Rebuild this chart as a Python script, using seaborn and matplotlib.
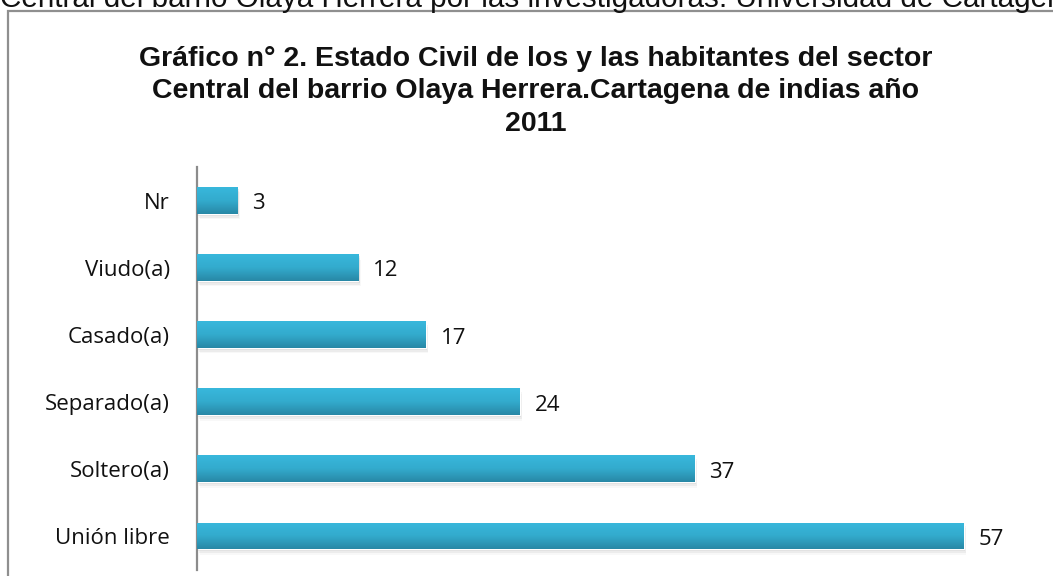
import matplotlib
matplotlib.use("Agg")
import matplotlib.pyplot as plt
import seaborn as sns
import numpy as np
import pandas as pd
from matplotlib.patches import Rectangle
from matplotlib.colors import LinearSegmentedColormap

categories = ["Nr", "Viudo(a)", "Casado(a)", "Separado(a)", "Soltero(a)", "Unión libre"]
values = [3, 12, 17, 24, 37, 57]
title = ("Gráfico n° 2. Estado Civil de los y las habitantes del sector\n"
         "Central del barrio Olaya Herrera.Cartagena de indias año\n2011")
top_text = "Central del barrio Olaya Herrera por las investigadoras. Universidad de Cartagena"

sns.set_theme(style="white")
plt.rcParams['font.family'] = ['Open Sans', 'DejaVu Sans']

W, H = 1053, 576
fig = plt.figure(figsize=(W/100, H/100), dpi=100)
ax = fig.add_axes([197/W, 1-569.5/H, 807/W, 402.5/H])

df = pd.DataFrame({"cat": categories, "val": values})
sns.barplot(data=df, x="val", y="cat", ax=ax, color="#33AED2", width=0.4,
            orient="h", saturation=1)

cmap = LinearSegmentedColormap.from_list("g", ["#38B8DC", "#33ABCD", "#2888A6"])
grad = np.linspace(0, 1, 64).reshape(-1, 1)
for p in list(ax.patches):
    x0, y0 = p.get_x(), p.get_y()
    w, h = p.get_width(), p.get_height()
    # soft shadow
    for k, a in enumerate([0.10, 0.07, 0.04]):
        sh = Rectangle((x0 + 0.1 + k*0.05, y0 + 0.03 + k*0.025), w, h,
                       facecolor="#555555", edgecolor="none", alpha=a, zorder=1)
        ax.add_patch(sh)
    p.set_zorder(2)
    im = ax.imshow(grad, cmap=cmap, aspect="auto",
                   extent=[x0, x0 + w, y0 + h, y0], zorder=3)
    im.set_clip_path(p)
    ax.text(x0 + w + 1.1, y0 + h/2 + 0.05, f"{int(w)}", va="center", ha="left",
            fontsize=16, color="#111111", zorder=4)

ax.set_xlim(0, 60)
ax.set_ylim(5.5, -0.5)
ax.set_xlabel("")
ax.set_ylabel("")
ax.set_xticks([])
ax.tick_params(axis="y", length=0, pad=19.5, labelsize=16, labelcolor="#111111")
for s in ["top", "right", "bottom"]:
    ax.spines[s].set_visible(False)
ax.spines["left"].set_color("#8c8c8c")
ax.spines["left"].set_linewidth(1.6)

# chart border box
fig.patches.append(Rectangle((7.5/W, -0.2), 2.0, (H-11)/H + 0.2,
                             transform=fig.transFigure, facecolor="none",
                             edgecolor="#8f8f8f", linewidth=1.6))

fig.text(0.0, 1 - 6.7/H, top_text, ha="left", va="baseline",
         fontsize=21.3, family=["Liberation Sans", "DejaVu Sans"], color="#111111")
fig.text(536/W, 1 - 46/H, title, ha="center", va="top", fontsize=20.5,
         fontweight="bold", family=["Liberation Sans", "DejaVu Sans"],
         linespacing=1.32, color="#111111")

fig.savefig("out.png", dpi=100)
